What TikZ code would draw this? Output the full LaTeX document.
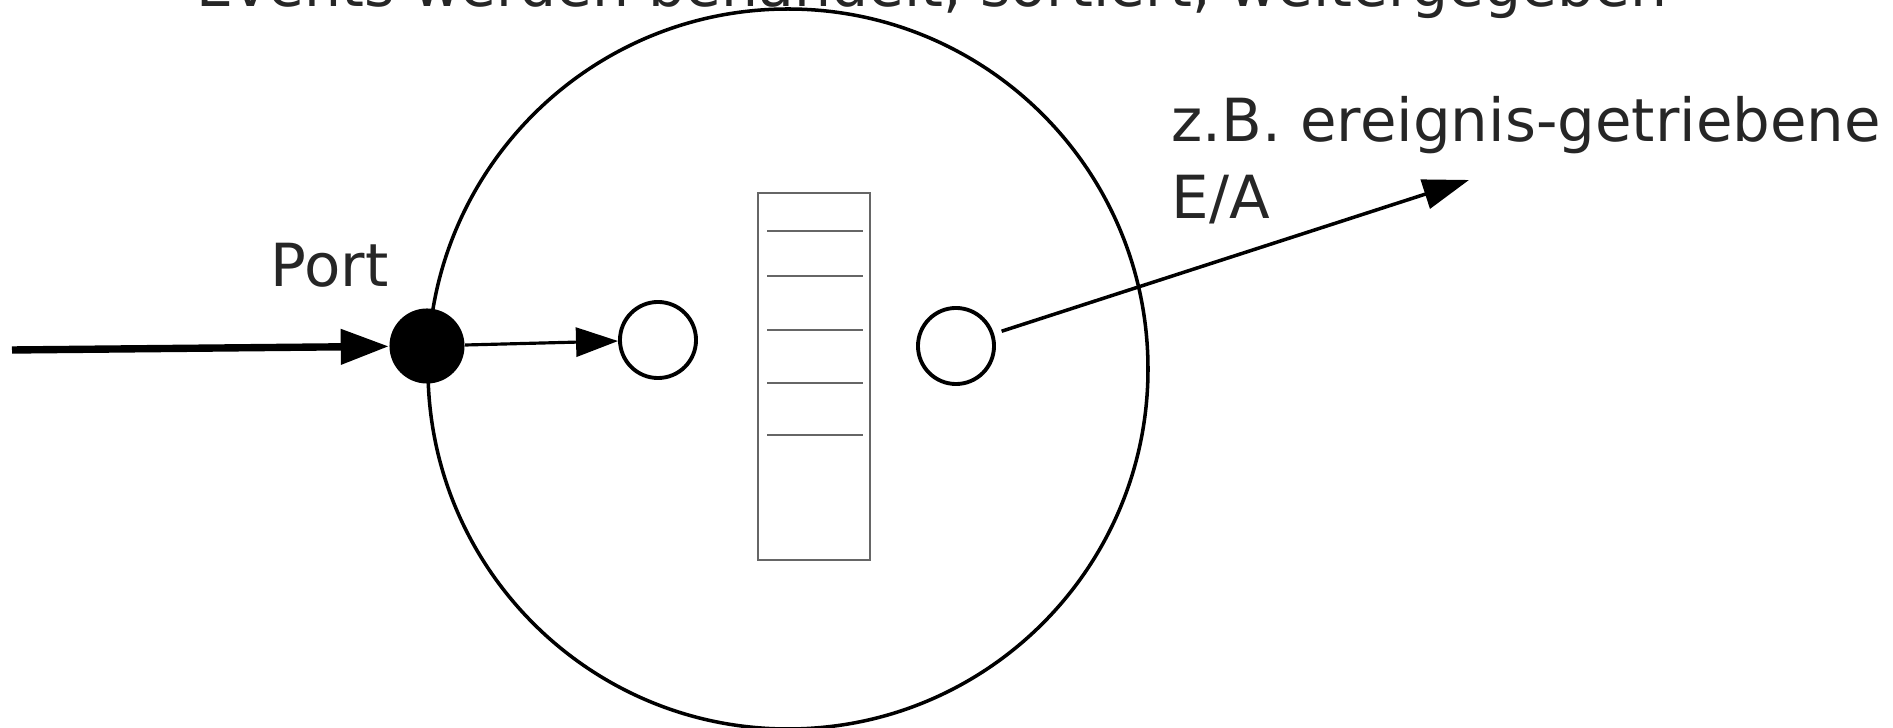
\documentclass[tikz,border=0pt]{standalone}
\usepackage{fontspec}
\setmainfont{DejaVu Sans}
\usetikzlibrary{arrows.meta}

\begin{document}
\begin{tikzpicture}[x=0.01cm, y=-0.01cm, font=\fontsize{16.9}{22}\selectfont,
  txt/.style={text=black!85, inner sep=0pt},
  box/.style={circle, draw, line width=1.1pt, minimum size=0.76cm, inner sep=0pt}]
\useasboundingbox (0,0) rectangle (1893,728);

% the process
\draw[line width=1pt] (788,369) circle (360);

\node[txt, anchor=base, font=\fontsize{16.6}{22}\selectfont] (title) at (932,7) {Events werden behandelt, sortiert, weitergegeben};

% ports
\node[circle, fill=black, minimum size=0.75cm, inner sep=0pt] (port) at (427,346) {};
\node[box] (inbox) at (658,340) {};
\node[box] (outbox) at (956,346) {};
\node[txt, anchor=base west] (portlabel) at (270,287) {Port};

% queue
\draw[black!60, line width=0.5pt] (758,193) rectangle (870,560);
\foreach \y in {231,276,330,383,435}
  \draw[black!60, line width=0.55pt] (767,\y) -- (863,\y);

\path (12,350) coordinate (src);
\path (1469,180) coordinate (io);
\draw[line width=2.1pt, -{Triangle[length=0.48cm, width=0.34cm]}] (src) -- (port);
\draw[line width=0.9pt, -{Triangle[length=0.42cm, width=0.29cm]}] (port) -- (inbox);
\draw[line width=1pt, shorten <=0.08cm, -{Triangle[length=0.46cm, width=0.30cm]}] (outbox) -- (io);

\node[txt, anchor=base west, align=left] (iolabel) at (1171,219) {z.B. ereignis-getriebene\\E/A};
\end{tikzpicture}
\end{document}
